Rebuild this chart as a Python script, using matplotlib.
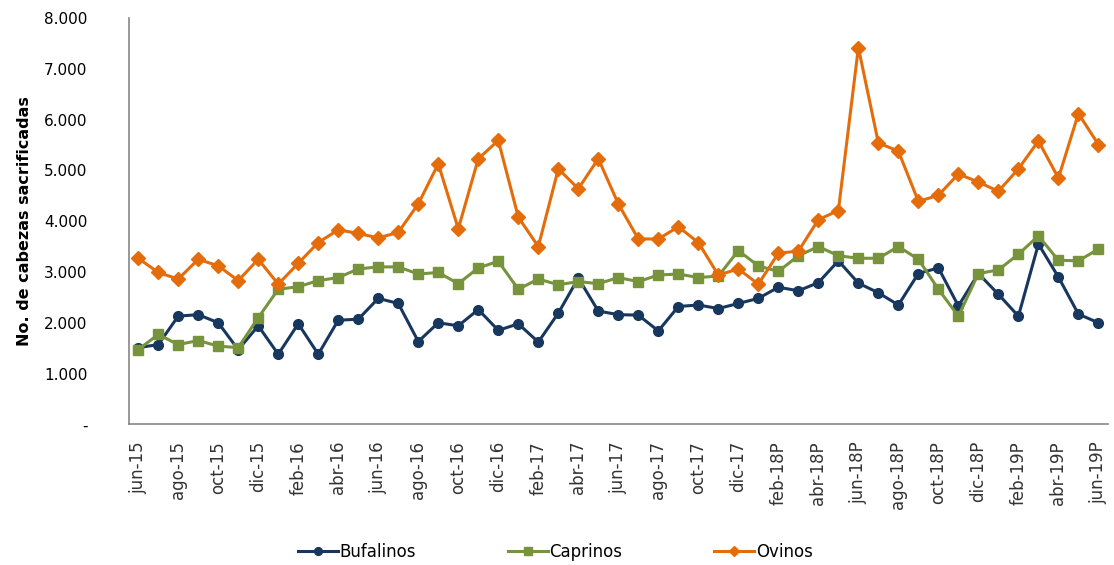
import numpy as np
import matplotlib.pyplot as plt
from matplotlib.ticker import FuncFormatter

# monthly data, jun-15 .. jun-19P
months = ['jun-15', 'jul-15', 'ago-15', 'sep-15', 'oct-15', 'nov-15', 'dic-15', 'ene-16',
          'feb-16', 'mar-16', 'abr-16', 'may-16', 'jun-16', 'jul-16', 'ago-16', 'sep-16',
          'oct-16', 'nov-16', 'dic-16', 'ene-17', 'feb-17', 'mar-17', 'abr-17', 'may-17',
          'jun-17', 'jul-17', 'ago-17', 'sep-17', 'oct-17', 'nov-17', 'dic-17', 'ene-18P',
          'feb-18P', 'mar-18P', 'abr-18P', 'may-18P', 'jun-18P', 'jul-18P', 'ago-18P', 'sep-18P',
          'oct-18P', 'nov-18P', 'dic-18P', 'ene-19P', 'feb-19P', 'mar-19P', 'abr-19P', 'may-19P',
          'jun-19P']

bufalinos = [1510, 1570, 2130, 2160, 2000, 1470, 1940, 1380, 1980, 1380, 2050, 2070,
             2480, 2380, 1630, 2000, 1940, 2260, 1850, 1980, 1620, 2190, 2880, 2230,
             2160, 2150, 1840, 2320, 2350, 2280, 2380, 2480, 2700, 2630, 2790, 3220,
             2780, 2590, 2350, 2970, 3080, 2330, 2970, 2560, 2130, 3550, 2900, 2170, 2000]

caprinos = [1470, 1770, 1570, 1650, 1540, 1510, 2100, 2660, 2710, 2830, 2890, 3060,
            3100, 3100, 2960, 2990, 2770, 3080, 3210, 2660, 2860, 2750, 2810, 2770,
            2890, 2810, 2940, 2960, 2890, 2920, 3420, 3120, 3010, 3320, 3500, 3320,
            3270, 3270, 3500, 3250, 2660, 2130, 2970, 3040, 3350, 3710, 3230, 3220, 3450]

ovinos = [3270, 2990, 2860, 3250, 3120, 2830, 3250, 2760, 3170, 3580, 3830, 3760,
          3670, 3780, 4340, 5130, 3850, 5230, 5590, 4080, 3500, 5030, 4640, 5230,
          4340, 3650, 3650, 3890, 3580, 2940, 3060, 2760, 3370, 3410, 4030, 4210,
          7420, 5540, 5380, 4390, 4510, 4930, 4770, 4590, 5030, 5580, 4850, 6120, 5510]

x = np.arange(len(months))

fig = plt.figure(figsize=(11.14, 5.65), dpi=100)
ax = fig.add_axes([0.116, 0.249, 0.879, 0.719])

ax.plot(x, bufalinos, color='#17375E', lw=2.2, marker='o', ms=7, label='Bufalinos')
ax.plot(x, caprinos, color='#77933C', lw=2.2, marker='s', ms=6.5, label='Caprinos')
ax.plot(x, ovinos, color='#E46C0A', lw=2.2, marker='D', ms=7, label='Ovinos')

ax.set_xlim(-0.45, 48.5)
ax.set_ylim(0, 8000)
ax.set_xticks(x[::2])
ax.set_xticklabels(months[::2], rotation=90, fontsize=12, color='#333333',
                   family='DejaVu Sans')
ax.set_yticks(np.arange(0, 8001, 1000))

def miles(v, pos):
    if v == 0:
        return '-'
    return '{:,.0f}'.format(v).replace(',', '.')
ax.yaxis.set_major_formatter(FuncFormatter(miles))
ax.tick_params(axis='y', labelsize=11, length=0, pad=30)
ax.tick_params(axis='x', length=0, pad=12)

ax.set_ylabel('No. de cabezas sacrificadas', fontsize=11.5, fontweight='bold', labelpad=9)

for s in ['top', 'right']:
    ax.spines[s].set_visible(False)
for s in ['left', 'bottom']:
    ax.spines[s].set_color('#868686')
    ax.spines[s].set_linewidth(1.2)

ax.legend(loc='center', bbox_to_anchor=(0.435, -0.315), ncol=3, frameon=False,
          fontsize=12, handlelength=2.4, columnspacing=5.5, handletextpad=0.1,
          markerscale=0.8)

fig.savefig('out.png', dpi=100)
